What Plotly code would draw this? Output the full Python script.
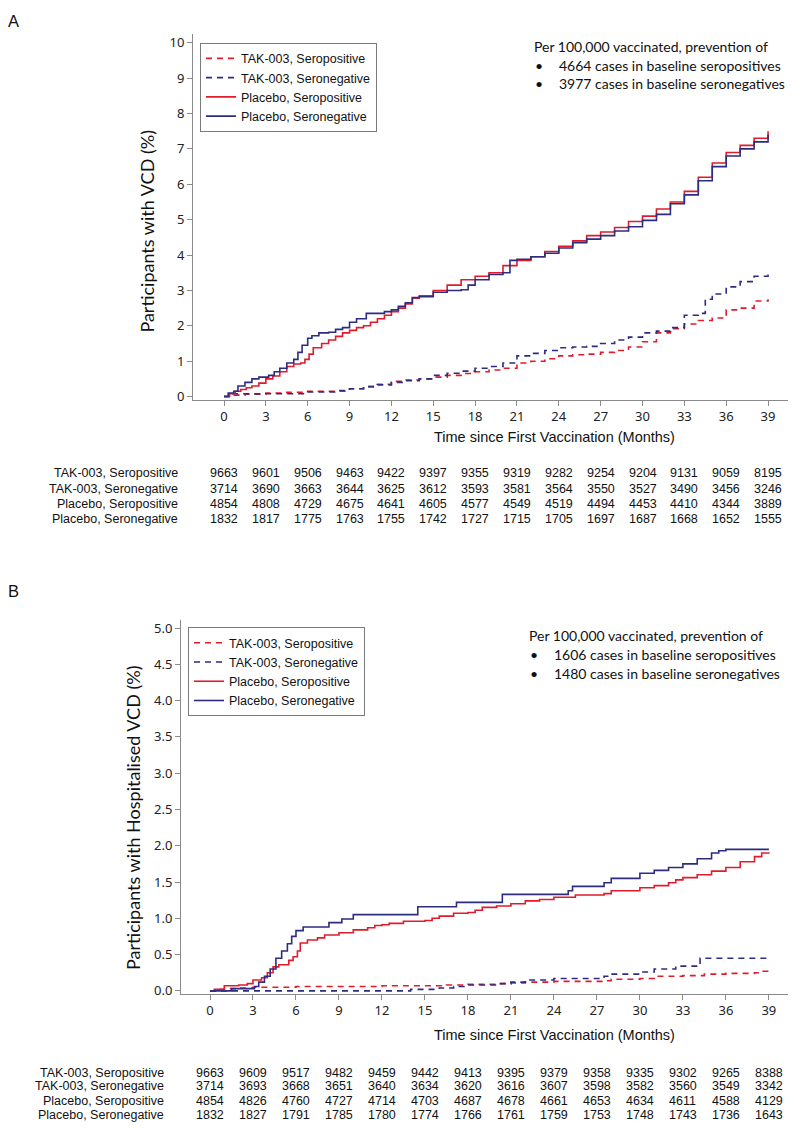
import plotly.graph_objects as go

# The page body has an 8px margin, so the figure is 8px smaller and all
# reference pixel positions are shifted by OFF.
PAGE_W, PAGE_H = 796, 1130
OFF = 8
W, H = PAGE_W - OFF, PAGE_H - OFF

# ---------------- Data ----------------
series_names = ["TAK-003, Seropositive", "TAK-003, Seronegative",
                "Placebo, Seropositive", "Placebo, Seronegative"]

# Panel A: cumulative % participants with VCD
a_tak_pos_t = [0, 0.5, 1.5, 3, 4.5, 6, 7.5, 9, 10, 11, 12, 13, 14, 15, 16, 17, 18, 19, 20, 21, 22, 23, 24, 25,
               26, 27, 28, 29, 30, 31, 32, 33, 34, 35, 36, 37, 38, 39]
a_tak_pos_v = [0, 0.04, 0.07, 0.1, 0.12, 0.15, 0.15, 0.22, 0.28, 0.35, 0.43, 0.47, 0.5, 0.55, 0.6, 0.65, 0.7,
               0.75, 0.8, 0.95, 1.0, 1.07, 1.15, 1.18, 1.2, 1.25, 1.3, 1.4, 1.55, 1.8, 1.92, 2.05, 2.15, 2.22,
               2.45, 2.5, 2.7, 2.75]
a_tak_neg_t = [0, 0.5, 3, 6, 8, 9, 10, 11, 12, 13, 14, 15, 16, 17, 18, 19, 20, 21, 22, 23, 24, 25, 26, 27, 28,
               29, 30, 31, 32, 33, 34, 34.5, 35, 36, 37, 38, 39]
a_tak_neg_v = [0, 0.08, 0.08, 0.13, 0.17, 0.22, 0.28, 0.33, 0.4, 0.45, 0.5, 0.6, 0.66, 0.72, 0.8, 0.85, 0.95,
               1.15, 1.22, 1.3, 1.38, 1.4, 1.42, 1.5, 1.6, 1.68, 1.8, 1.85, 1.95, 2.3, 2.35, 2.75, 2.9, 3.1,
               3.25, 3.4, 3.45]
a_pla_pos_t = [0, 0.4, 0.8, 1.2, 1.6, 2.0, 2.5, 3.0, 3.5, 4.0, 4.5, 5.0, 5.5, 5.8, 6.1, 6.4, 7.0, 7.5, 8.0, 8.5,
               9.0, 9.5, 10.0, 10.5, 11.0, 11.5, 12.0, 12.5, 13.0, 13.5, 14.0, 15.0, 16.0, 17.0, 18.0, 19.0,
               20.0, 21.0, 22.0, 23.0, 24.0, 25.0, 26.0, 27.0, 28.0, 29.0, 30.0, 31.0, 32.0, 33.0, 34.0, 35.0,
               36.0, 37.0, 38.0, 39.0]
a_pla_pos_v = [0, 0.08, 0.15, 0.2, 0.25, 0.3, 0.38, 0.5, 0.58, 0.7, 0.85, 0.92, 0.95, 1.05, 1.2, 1.38, 1.5, 1.6,
               1.7, 1.8, 1.87, 1.95, 2.0, 2.1, 2.2, 2.3, 2.4, 2.5, 2.62, 2.78, 2.85, 3.0, 3.15, 3.3, 3.4, 3.5,
               3.7, 3.85, 3.95, 4.1, 4.25, 4.4, 4.55, 4.65, 4.78, 4.95, 5.1, 5.3, 5.5, 5.8, 6.2, 6.6, 6.9, 7.1,
               7.3, 7.5]
a_pla_neg_t = [0, 0.3, 0.7, 1.0, 1.5, 2.0, 2.5, 3.2, 3.6, 4.0, 4.5, 5.0, 5.3, 5.6, 6.0, 6.3, 6.8, 7.5, 8.0, 8.5,
               9.0, 9.5, 10.2, 11.5, 12.0, 12.5, 13.0, 13.5, 14.0, 15.0, 16.0, 17.0, 17.5, 18.0, 19.0, 20.0,
               20.5, 21.0, 22.0, 23.0, 24.0, 25.0, 26.0, 27.0, 28.0, 29.0, 30.0, 31.0, 32.0, 33.0, 34.0, 35.0,
               36.0, 37.0, 38.0, 39.0]
a_pla_neg_v = [0, 0.1, 0.15, 0.3, 0.4, 0.5, 0.55, 0.6, 0.7, 0.8, 0.95, 1.05, 1.25, 1.45, 1.65, 1.72, 1.8, 1.82,
               1.9, 1.95, 2.1, 2.2, 2.35, 2.4, 2.45, 2.55, 2.65, 2.8, 2.82, 2.95, 3.0, 3.02, 3.15, 3.3, 3.45,
               3.5, 3.85, 3.88, 3.95, 4.05, 4.2, 4.35, 4.45, 4.55, 4.68, 4.8, 4.98, 5.15, 5.45, 5.7, 6.1, 6.5,
               6.8, 7.0, 7.2, 7.4]

# Panel B: cumulative % participants with hospitalised VCD
b_tak_pos_t = [0, 0.5, 1, 2, 3, 4, 6, 9, 12, 15, 16.5, 18, 20, 21, 22, 24, 27.5, 28, 30, 31, 33, 34.5, 36, 38,
               38.5, 39]
b_tak_pos_v = [0, 0.02, 0.03, 0.04, 0.05, 0.05, 0.06, 0.06, 0.07, 0.07, 0.08, 0.09, 0.1, 0.11, 0.12, 0.13,
               0.14, 0.16, 0.17, 0.2, 0.21, 0.23, 0.24, 0.25, 0.27, 0.28]
b_tak_neg_t = [0, 3, 12, 14, 16, 17, 18, 20, 21, 22, 24, 27.5, 28, 30, 31, 32.5, 34.2, 39]
b_tak_neg_v = [0, 0.0, 0.0, 0.02, 0.04, 0.06, 0.08, 0.1, 0.12, 0.15, 0.17, 0.2, 0.23, 0.26, 0.3, 0.34, 0.45, 0.45]
b_pla_pos_t = [0, 0.3, 1.0, 2.0, 2.6, 3.0, 3.6, 4.0, 4.4, 4.8, 5.5, 5.8, 6.1, 6.3, 6.8, 7.5, 8.0, 9.0, 10.0,
               11.0, 11.5, 12.0, 12.5, 13.5, 15.0, 15.5, 16.0, 17.0, 18.0, 18.5, 19.0, 20.0, 21.0, 22.0, 23.0,
               24.0, 25.5, 27.5, 28.0, 30.0, 31.0, 32.0, 32.5, 33.0, 34.0, 35.0, 36.0, 37.0, 38.0, 38.5, 39.0]
b_pla_pos_v = [0, 0.02, 0.07, 0.08, 0.1, 0.15, 0.18, 0.25, 0.33, 0.36, 0.42, 0.47, 0.55, 0.66, 0.7, 0.73,
               0.77, 0.8, 0.84, 0.87, 0.9, 0.91, 0.93, 0.96, 0.97, 1.0, 1.03, 1.07, 1.08, 1.11, 1.15, 1.17,
               1.2, 1.24, 1.26, 1.29, 1.32, 1.34, 1.38, 1.42, 1.45, 1.49, 1.53, 1.56, 1.6, 1.65, 1.7, 1.78,
               1.85, 1.9, 1.91]
b_pla_neg_t = [0, 1.5, 3.1, 3.4, 3.8, 4.2, 4.6, 5.0, 5.4, 5.7, 6.0, 6.5, 8.3, 9.2, 10.0, 14.5, 17.2, 20.4,
               25.0, 25.3, 27.5, 28.0, 30.0, 31.0, 32.0, 33.0, 34.0, 35.0, 35.5, 36.0, 39.0]
b_pla_neg_v = [0, 0.03, 0.06, 0.12, 0.2, 0.3, 0.45, 0.55, 0.65, 0.75, 0.83, 0.88, 0.94, 0.99, 1.05, 1.16,
               1.22, 1.33, 1.38, 1.44, 1.49, 1.55, 1.62, 1.66, 1.7, 1.75, 1.82, 1.9, 1.93, 1.95, 1.95]

# Number at risk tables
month_ticks = [0, 3, 6, 9, 12, 15, 18, 21, 24, 27, 30, 33, 36, 39]
a_risk_tak_pos = [9663, 9601, 9506, 9463, 9422, 9397, 9355, 9319, 9282, 9254, 9204, 9131, 9059, 8195]
a_risk_tak_neg = [3714, 3690, 3663, 3644, 3625, 3612, 3593, 3581, 3564, 3550, 3527, 3490, 3456, 3246]
a_risk_pla_pos = [4854, 4808, 4729, 4675, 4641, 4605, 4577, 4549, 4519, 4494, 4453, 4410, 4344, 3889]
a_risk_pla_neg = [1832, 1817, 1775, 1763, 1755, 1742, 1727, 1715, 1705, 1697, 1687, 1668, 1652, 1555]
b_risk_tak_pos = [9663, 9609, 9517, 9482, 9459, 9442, 9413, 9395, 9379, 9358, 9335, 9302, 9265, 8388]
b_risk_tak_neg = [3714, 3693, 3668, 3651, 3640, 3634, 3620, 3616, 3607, 3598, 3582, 3560, 3549, 3342]
b_risk_pla_pos = [4854, 4826, 4760, 4727, 4714, 4703, 4687, 4678, 4661, 4653, 4634, 4611, 4588, 4129]
b_risk_pla_neg = [1832, 1827, 1791, 1785, 1780, 1774, 1766, 1761, 1759, 1753, 1748, 1743, 1736, 1643]

a_yticks = [0, 1, 2, 3, 4, 5, 6, 7, 8, 9, 10]
b_yticks = [0, 0.5, 1.0, 1.5, 2.0, 2.5, 3.0, 3.5, 4.0, 4.5, 5.0]

a_note = ["Per 100,000 vaccinated, prevention of",
          "4664 cases in baseline seropositives",
          "3977 cases in baseline seronegatives"]
b_note = ["Per 100,000 vaccinated, prevention of",
          "1606 cases in baseline seropositives",
          "1480 cases in baseline seronegatives"]

# ---------------- Styling ----------------
RED = "#E11B2C"
NAVY = "#2C2C80"
styles = [dict(color=RED, dash="6px,5px"), dict(color=NAVY, dash="6px,5px"),
          dict(color=RED, dash="solid"), dict(color=NAVY, dash="solid")]


def px_x(p):
    return (p - OFF) / W


def px_y(p):
    return 1 - (p - OFF) / H


fig = go.Figure()

a_series = [(a_tak_pos_t, a_tak_pos_v), (a_tak_neg_t, a_tak_neg_v),
            (a_pla_pos_t, a_pla_pos_v), (a_pla_neg_t, a_pla_neg_v)]
b_series = [(b_tak_pos_t, b_tak_pos_v), (b_tak_neg_t, b_tak_neg_v),
            (b_pla_pos_t, b_pla_pos_v), (b_pla_neg_t, b_pla_neg_v)]

for name, (t, v), st in zip(series_names, a_series, styles):
    fig.add_trace(go.Scatter(x=t, y=v, mode="lines", name=name, line_shape="hv",
                             line=dict(color=st["color"], dash=st["dash"], width=1.6),
                             xaxis="x", yaxis="y", legend="legend"))
for name, (t, v), st in zip(series_names, b_series, styles):
    fig.add_trace(go.Scatter(x=t, y=v, mode="lines", name=name, line_shape="hv",
                             line=dict(color=st["color"], dash=st["dash"], width=1.6),
                             xaxis="x2", yaxis="y2", legend="legend2"))

AX_COL = "#8a8a8a"
TICKFONT = dict(family="Noto Sans, Open Sans, sans-serif", size=13, color="#222")


def axis_common():
    return dict(showline=True, linecolor=AX_COL, linewidth=1, ticks="outside", ticklen=5,
                tickcolor=AX_COL, tickwidth=1, showgrid=False, zeroline=False, tickfont=TICKFONT)


# Panel A geometry (reference page pixels)
A_left, A_right, A_top, A_bot = 193, 790, 33, 401
A_x0, A_pxm = 224, 13.95          # pixel of month 0 and px per month
A_y0, A_pxu = 398, 35.6           # pixel of 0% and px per unit
# Panel B geometry
B_left, B_right, B_top, B_bot = 181, 790, 623, 999
B_x0, B_pxm = 210, 14.33
B_y0, B_pxu = 996, 73.0

LEG_FONT = dict(family="Liberation Sans, Arial, sans-serif", size=12.5, color="#111")

fig.update_layout(
    width=W, height=H, margin=dict(l=0, r=0, t=0, b=0),
    paper_bgcolor="white", plot_bgcolor="white", showlegend=True,
    xaxis=dict(axis_common(), domain=[px_x(A_left), px_x(A_right)], anchor="y",
               range=[(A_left - A_x0) / A_pxm, (A_right - A_x0) / A_pxm],
               tickmode="array", tickvals=month_ticks),
    yaxis=dict(axis_common(), domain=[px_y(A_bot), px_y(A_top)], anchor="x",
               range=[(A_y0 - A_bot) / A_pxu, (A_y0 - A_top) / A_pxu],
               tickmode="array", tickvals=a_yticks),
    xaxis2=dict(axis_common(), domain=[px_x(B_left), px_x(B_right)], anchor="y2",
                range=[(B_left - B_x0) / B_pxm, (B_right - B_x0) / B_pxm],
                tickmode="array", tickvals=month_ticks),
    yaxis2=dict(axis_common(), domain=[px_y(B_bot), px_y(B_top)], anchor="x2",
                range=[(B_y0 - B_bot) / B_pxu, (B_y0 - B_top) / B_pxu],
                tickmode="array", tickvals=b_yticks, tickformat=".1f"),
    legend=dict(x=px_x(200), y=px_y(42), xanchor="left", yanchor="top",
                bordercolor="#7a7a7a", borderwidth=1, bgcolor="white",
                font=LEG_FONT, itemwidth=30, tracegroupgap=0),
    legend2=dict(x=px_x(188), y=px_y(630), xanchor="left", yanchor="top",
                 bordercolor="#7a7a7a", borderwidth=1, bgcolor="white",
                 font=LEG_FONT, itemwidth=30, tracegroupgap=0),
)

ann = []
LAB_FONT = dict(family="Liberation Sans, Arial, sans-serif", size=12.5, color="#111")
NOTE_FONT = dict(family="Lato, Carlito, sans-serif", size=14.0, color="#111")
TITLE_FONT = dict(family="Lato, Carlito, sans-serif", size=18, color="#111")
XT_FONT = dict(family="Liberation Sans, Arial, sans-serif", size=14.5, color="#111")
LETTER_FONT = dict(family="Liberation Sans, Arial, sans-serif", size=16.5, color="#111")

# panel letters
ann.append(dict(text="A", x=px_x(6), y=px_y(20), xref="paper", yref="paper", xanchor="left",
                yanchor="middle", showarrow=False, font=LETTER_FONT))
ann.append(dict(text="B", x=px_x(6), y=px_y(594), xref="paper", yref="paper", xanchor="left",
                yanchor="middle", showarrow=False, font=LETTER_FONT))

# axis titles
ann.append(dict(text="Participants with VCD (%)", x=px_x(147), y=px_y(232), xref="paper", yref="paper",
                textangle=-90, showarrow=False, font=TITLE_FONT, xanchor="center", yanchor="middle"))
ann.append(dict(text="Participants with Hospitalised VCD (%)", x=px_x(133), y=px_y(822), xref="paper",
                yref="paper", textangle=-90, showarrow=False, font=TITLE_FONT,
                xanchor="center", yanchor="middle"))
ann.append(dict(text="Time since First Vaccination (Months)", x=px_x(554), y=px_y(439), xref="paper",
                yref="paper", showarrow=False, font=XT_FONT, xanchor="center", yanchor="middle"))
ann.append(dict(text="Time since First Vaccination (Months)", x=px_x(554), y=px_y(1040), xref="paper",
                yref="paper", showarrow=False, font=XT_FONT, xanchor="center", yanchor="middle"))


# notes
def add_note(lines, x_text, x_bullet, x_sub, y_first, dy):
    ann.append(dict(text=lines[0], x=px_x(x_text), y=px_y(y_first), xref="paper", yref="paper",
                    xanchor="left", yanchor="middle", showarrow=False, font=NOTE_FONT))
    for i, line in enumerate(lines[1:], start=1):
        yy = px_y(y_first + i * dy)
        ann.append(dict(text="•", x=px_x(x_bullet), y=yy, xref="paper", yref="paper",
                        xanchor="left", yanchor="middle", showarrow=False, font=NOTE_FONT))
        ann.append(dict(text=line, x=px_x(x_sub), y=yy, xref="paper", yref="paper",
                        xanchor="left", yanchor="middle", showarrow=False, font=NOTE_FONT))


add_note(a_note, 532, 533, 557, 46, 18.5)
add_note(b_note, 527, 528, 552, 638, 19.5)


# risk tables
def add_risk(rows, xref, label_x, ys):
    for name, vals, yy in zip(series_names, rows, ys):
        ann.append(dict(text=name, x=px_x(label_x), y=px_y(yy), xref="paper", yref="paper",
                        xanchor="right", yanchor="middle", showarrow=False, font=LAB_FONT))
        for m, n in zip(month_ticks, vals):
            ann.append(dict(text=str(n), x=m, y=px_y(yy), xref=xref, yref="paper",
                            xanchor="center", yanchor="middle", showarrow=False, font=LAB_FONT))


add_risk([a_risk_tak_pos, a_risk_tak_neg, a_risk_pla_pos, a_risk_pla_neg], "x", 180, [475, 491, 506, 521])
add_risk([b_risk_tak_pos, b_risk_tak_neg, b_risk_pla_pos, b_risk_pla_neg], "x2", 166, [1079, 1092, 1107, 1121])

fig.update_layout(annotations=ann)
fig.write_html("out.html")
